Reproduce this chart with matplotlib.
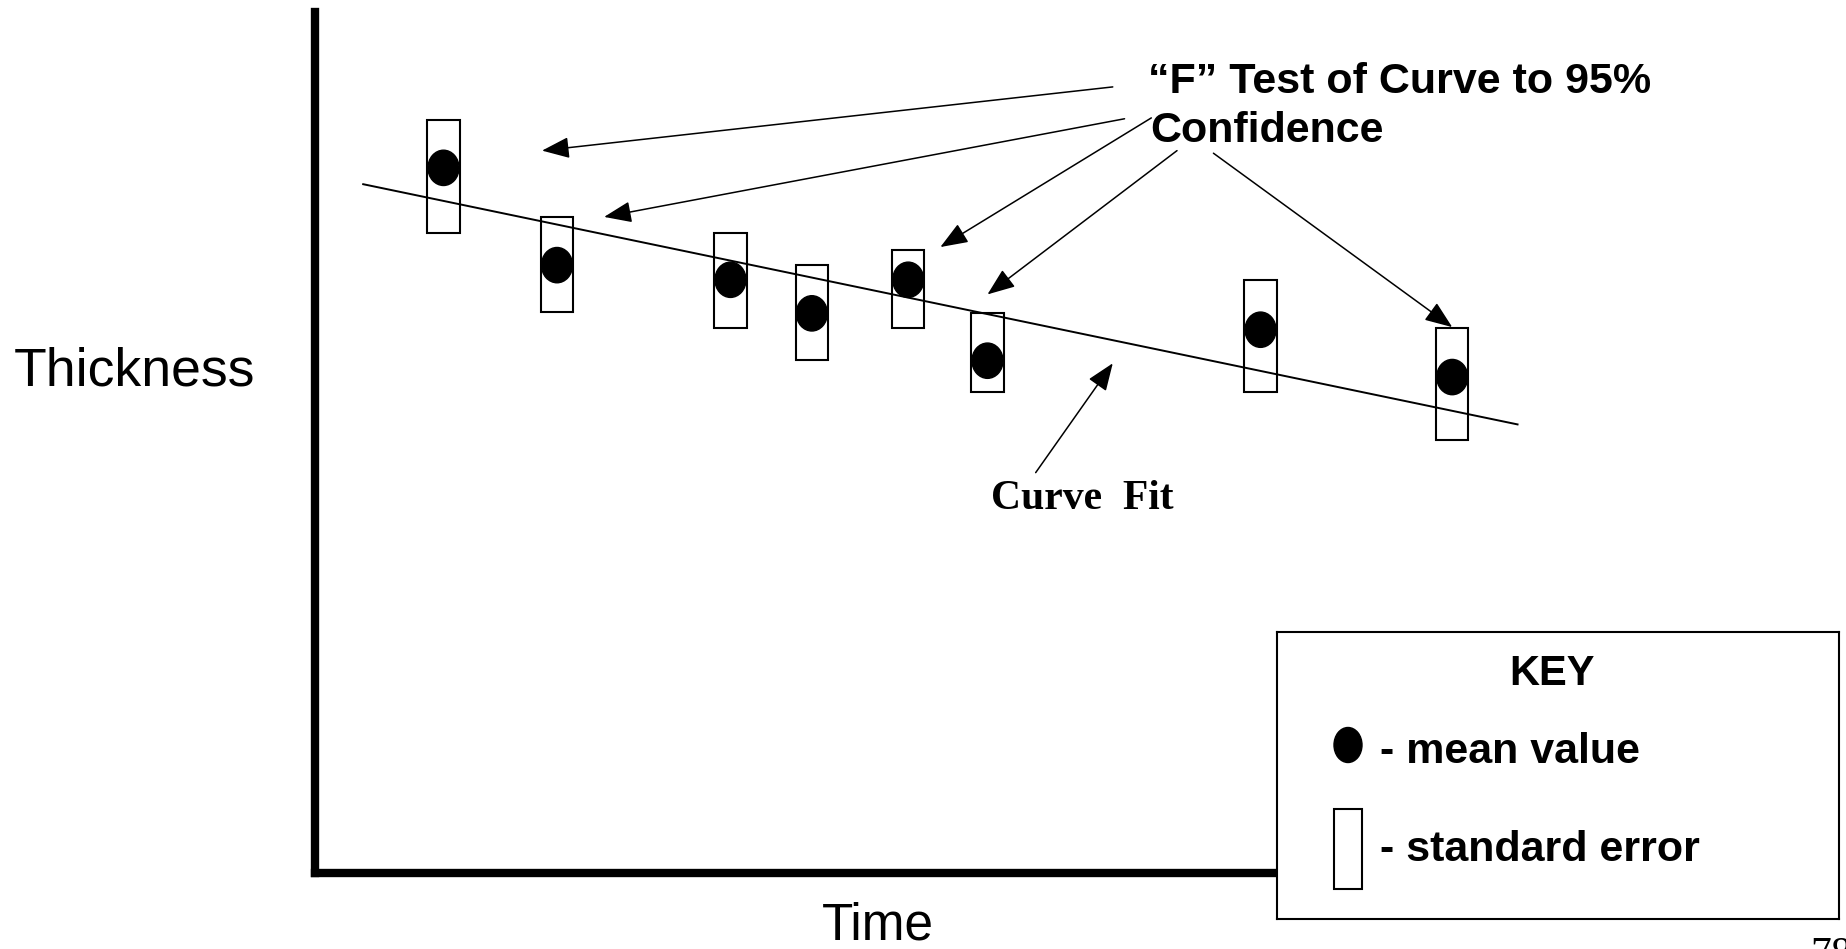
import matplotlib
matplotlib.use("Agg")
import matplotlib.pyplot as plt
from matplotlib.patches import Rectangle, Ellipse

W, H = 1846, 949

# ------------- data (arbitrary units) -------------
time = [1.20, 2.26, 3.88, 4.64, 5.54, 6.28, 8.83, 10.62]
mean_thick = [8.19, 7.06, 6.89, 6.50, 6.89, 5.95, 6.31, 5.76]
se_low = [7.43, 6.52, 6.33, 5.96, 6.33, 5.59, 5.59, 5.03]
se_high = [8.75, 7.62, 7.43, 7.06, 7.24, 6.50, 6.89, 6.33]
fit_time = [0.45, 11.23]
fit_thick = [8.00, 5.21]

# where the "F" test arrows point (start, end)
f_arrows = [((7.45, 9.13), (2.12, 8.39)),
            ((7.56, 8.76), (2.70, 7.62)),
            ((7.81, 8.77), (5.84, 7.27)),
            ((8.05, 8.39), (6.28, 6.72)),
            ((8.39, 8.36), (10.62, 6.34))]
fit_arrow = ((6.73, 4.65), (7.45, 5.92))
# -----------------------------------------------------------------------

sans = ['Liberation Sans', 'DejaVu Sans']
serif = ['Liberation Serif', 'DejaVu Serif']

fig = plt.figure(figsize=(W / 100, H / 100), dpi=100)
ax = fig.add_axes([315 / W, 1 - 873 / H, (1600 - 315) / W, (873 - 12) / H])
ax.set_xlim(0, 12)
ax.set_ylim(0, 10)
for s in ['top', 'right']:
    ax.spines[s].set_visible(False)
for s in ['left', 'bottom']:
    ax.spines[s].set_linewidth(6)
    ax.spines[s].set_capstyle('projecting')
ax.set_xticks([])
ax.set_yticks([])

box_w = 0.30
dot_w, dot_h = 0.29, 0.41

# standard error boxes and mean values
for t, m, lo, hi in zip(time, mean_thick, se_low, se_high):
    ax.add_patch(Rectangle((t - box_w / 2, lo), box_w, hi - lo, facecolor='white',
                           edgecolor='black', lw=1.5, zorder=2))
    ax.add_patch(Ellipse((t, m), dot_w, dot_h, color='black', zorder=4))

# curve fit
ax.plot(fit_time, fit_thick, color='black', lw=1.4, zorder=3)

arrow_kw = dict(arrowstyle='-|>,head_length=0.85,head_width=0.33', color='black',
                lw=1.1, shrinkA=0, shrinkB=0, mutation_scale=20)
for start, end in f_arrows:
    ax.annotate('', xy=end, xytext=start, arrowprops=arrow_kw, annotation_clip=False)
ax.annotate('', xy=fit_arrow[1], xytext=fit_arrow[0], arrowprops=arrow_kw)

ax.text(7.78, 9.06, '\u201cF\u201d Test of Curve to 95%', fontsize=31, fontweight='bold',
        family=sans, ha='left', va='baseline')
ax.text(7.80, 8.49, 'Confidence', fontsize=31, fontweight='bold',
        family=sans, ha='left', va='baseline')
ax.text(6.31, 4.23, 'Curve  Fit', fontsize=30, fontweight='bold',
        family=serif, ha='left', va='baseline')

# axis labels
fig.text(14 / W, 1 - 386 / H, 'Thickness', fontsize=38.5, family=sans, ha='left', va='baseline')
fig.text(878 / W, 1 - 940 / H, 'Time', fontsize=37, family=sans, ha='center', va='baseline')

# key box
kx0, ky0, kx1, ky1 = 1277, 632, 1839, 919
kax = fig.add_axes([kx0 / W, 1 - ky1 / H, (kx1 - kx0) / W, (ky1 - ky0) / H])
kax.set_xlim(0, kx1 - kx0)
kax.set_ylim(ky1 - ky0, 0)
kax.set_xticks([])
kax.set_yticks([])
for s in kax.spines.values():
    s.set_linewidth(1.5)
kax.text(275, 53, 'KEY', fontsize=30, fontweight='bold', family=sans, ha='center', va='baseline')
kax.add_patch(Ellipse((71, 113), 28, 35, color='black'))
kax.text(103, 131, '- mean value', fontsize=31, fontweight='bold', family=sans, ha='left', va='baseline')
kax.add_patch(Rectangle((57, 177), 28, 80, facecolor='white', edgecolor='black', lw=1.5))
kax.text(103, 229, '- standard error', fontsize=31, fontweight='bold', family=sans, ha='left', va='baseline')

# page number, cut off at the bottom
fig.text(1810 / W, 1 - 936 / H, '78', fontsize=30, family=serif, ha='left', va='top')

fig.savefig('out.png', dpi=100)
